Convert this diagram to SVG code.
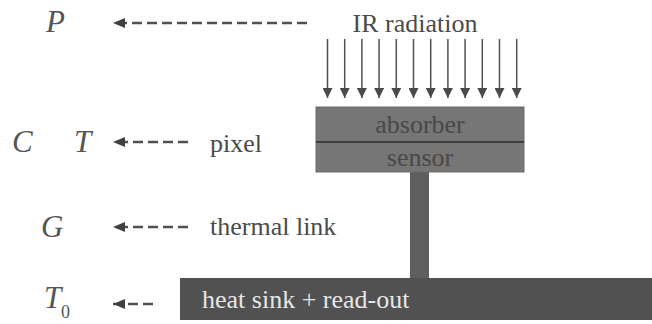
<svg xmlns="http://www.w3.org/2000/svg" width="652" height="324" viewBox="0 0 652 324">
<style>
.lbl{font-family:"Liberation Serif","Times New Roman",serif;font-size:26px;fill:#4a4a4a}
.sym{font-family:"Liberation Serif","Times New Roman",serif;font-style:italic;font-size:31px;fill:#555}
.sub{font-family:"Liberation Serif","Times New Roman",serif;font-size:18px;fill:#555}
.dash{stroke:#505050;stroke-width:2.5;stroke-dasharray:10 5;fill:none}
.ray{stroke:#505050;stroke-width:1.5;fill:none}
</style>
<defs>
<marker id="ah" markerWidth="10" markerHeight="10" refX="10" refY="5" orient="auto" markerUnits="userSpaceOnUse">
<path d="M0,0 L10,5 L0,10 Z" fill="#4a4a4a"/>
</marker>
<marker id="dh" markerWidth="12" markerHeight="10" refX="12" refY="5" orient="auto" markerUnits="userSpaceOnUse">
<path d="M0,0 L12,5 L0,10 Z" fill="#404040"/>
</marker>
</defs>
<rect width="652" height="324" fill="#ffffff"/>
<g id="radiation">
<text class="lbl" x="415" y="32" text-anchor="middle">IR radiation</text>
<g id="rays">
<line class="ray" x1="327.5" y1="39" x2="327.5" y2="98" marker-end="url(#ah)"/>
<line class="ray" x1="344.7" y1="39" x2="344.7" y2="98" marker-end="url(#ah)"/>
<line class="ray" x1="361.9" y1="39" x2="361.9" y2="98" marker-end="url(#ah)"/>
<line class="ray" x1="379.1" y1="39" x2="379.1" y2="98" marker-end="url(#ah)"/>
<line class="ray" x1="396.3" y1="39" x2="396.3" y2="98" marker-end="url(#ah)"/>
<line class="ray" x1="413.5" y1="39" x2="413.5" y2="98" marker-end="url(#ah)"/>
<line class="ray" x1="430.7" y1="39" x2="430.7" y2="98" marker-end="url(#ah)"/>
<line class="ray" x1="447.9" y1="39" x2="447.9" y2="98" marker-end="url(#ah)"/>
<line class="ray" x1="465.1" y1="39" x2="465.1" y2="98" marker-end="url(#ah)"/>
<line class="ray" x1="482.3" y1="39" x2="482.3" y2="98" marker-end="url(#ah)"/>
<line class="ray" x1="499.5" y1="39" x2="499.5" y2="98" marker-end="url(#ah)"/>
<line class="ray" x1="516.7" y1="39" x2="516.7" y2="98" marker-end="url(#ah)"/>
</g>
</g>
<g id="link">
<rect x="410" y="170" width="19" height="110" fill="#5e5e5e"/>
</g>
<g id="pixel">
<rect x="316" y="107" width="208" height="65" fill="#767676" stroke="#6a6a6a" stroke-width="1"/>
<line x1="316" y1="142" x2="524" y2="142" stroke="#3e3e3e" stroke-width="2"/>
<text class="lbl" x="420" y="133" text-anchor="middle" style="fill:#484848">absorber</text>
<text class="lbl" x="420" y="166" text-anchor="middle" style="fill:#484848">sensor</text>
</g>
<g id="sink">
<rect x="180" y="278" width="472" height="42" fill="#515151"/>
<text class="lbl" x="202" y="308" style="fill:#e6e6e6">heat sink + read-out</text>
</g>
<g id="labels">
<text class="sym" x="46" y="32">P</text>
<text class="sym" x="12" y="152">C</text>
<text class="sym" x="74" y="152">T</text>
<text class="lbl" x="210" y="152">pixel</text>
<text class="sym" x="41" y="237">G</text>
<text class="lbl" x="210" y="235">thermal link</text>
<text class="sym" x="44" y="308">T</text>
<text class="sub" x="61" y="318">0</text>
</g>
<g id="connectors">
<line class="dash" x1="307" y1="23" x2="113" y2="23" marker-end="url(#dh)"/>
<line class="dash" x1="188" y1="142" x2="113" y2="142" marker-end="url(#dh)"/>
<line class="dash" x1="188" y1="227" x2="113" y2="227" marker-end="url(#dh)"/>
<line class="dash" x1="153" y1="304" x2="113" y2="304" marker-end="url(#dh)"/>
</g>
</svg>
